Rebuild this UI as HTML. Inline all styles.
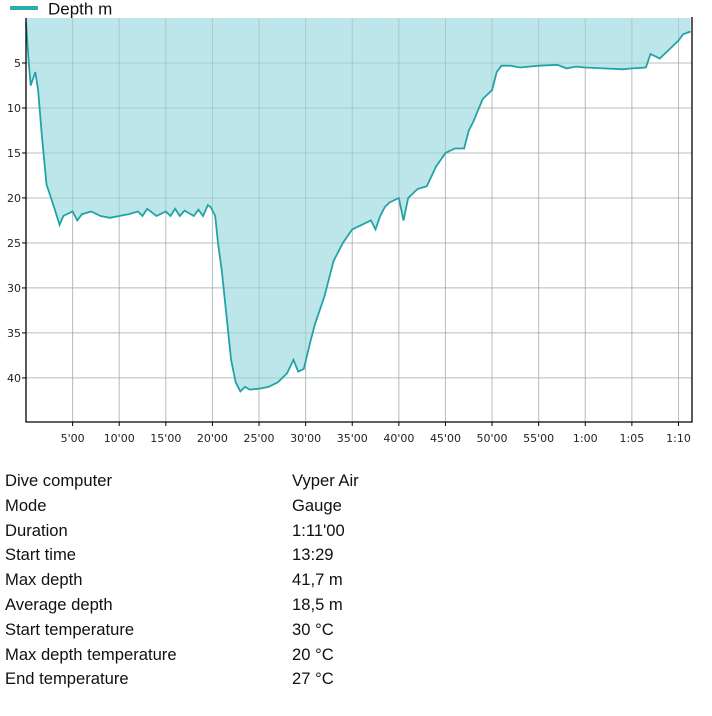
<!DOCTYPE html>
<html><head><meta charset="utf-8"><style>
body{margin:0;background:#fff;width:712px;height:716px;overflow:hidden;font-family:"Liberation Sans",sans-serif;}
#tbl{position:absolute;left:5px;top:471px;font-size:16.6px;color:#111;}
.row{height:24.8px;position:relative;white-space:nowrap}
.row span.v{position:absolute;left:287px}
</style></head><body>
<svg id="chart" width="712" height="460" style="position:absolute;left:0;top:0">
<g id="grid"></g>
<path id="area" fill="#bde6ea"></path>
<g id="grid2"></g>
<path id="line" fill="none" stroke="#23a3a6" stroke-width="1.8"></path>
<g id="axes"></g>
<rect x="10" y="6" width="28" height="4" fill="#2aacac"/>
<text x="48" y="14.5" font-size="17" fill="#111">Depth m</text>
</svg>
<div id="tbl">
<div class="row">Dive computer<span class="v">Vyper Air</span></div>
<div class="row">Mode<span class="v">Gauge</span></div>
<div class="row">Duration<span class="v">1:11'00</span></div>
<div class="row">Start time<span class="v">13:29</span></div>
<div class="row">Max depth<span class="v">41,7 m</span></div>
<div class="row">Average depth<span class="v">18,5 m</span></div>
<div class="row">Start temperature<span class="v">30 °C</span></div>
<div class="row">Max depth temperature<span class="v">20 °C</span></div>
<div class="row">End temperature<span class="v">27 °C</span></div>
</div>
<script>
const timesMin=[0,0.3,0.5,1,1.3,1.7,2.2,3,3.6,4,5,5.5,6,7,8,9,10,11,12,12.5,13,14,15,15.5,16,16.5,17,18,18.5,19,19.5,19.8,20.3,20.6,21,21.5,22,22.5,23,23.5,24,25,26,27,28,28.7,29.2,29.8,30.5,31,32,33,34,35,36,37,37.5,38,38.5,39,40,40.5,41,42,43,44,45,46,47,47.5,48,49,50,50.5,51,52,53,55,57,58,59,60,62,64,65,66.5,67,68,69,70,70.5,71.3];
const depthM=[0.5,5,7.5,6,8,13,18.5,21,23,22,21.5,22.5,21.8,21.5,22,22.2,22,21.8,21.5,22,21.2,22,21.5,22,21.2,22,21.4,22,21.3,22,20.8,21,22,25,28,33,38,40.5,41.5,41,41.3,41.2,41,40.5,39.5,38,39.3,39,36,34,31,27,25,23.5,23,22.5,23.5,22,21,20.5,20,22.5,20,19,18.7,16.5,15,14.5,14.5,12.5,11.5,9,8,6,5.3,5.3,5.5,5.3,5.2,5.6,5.4,5.5,5.6,5.7,5.6,5.5,4,4.5,3.5,2.5,1.8,1.5];
const xTicks=[5,10,15,20,25,30,35,40,45,50,55,60,65,70];
const xTickLabels=["5'00","10'00","15'00","20'00","25'00","30'00","35'00","40'00","45'00","50'00","55'00","1:00","1:05","1:10"];
const yTicks=[5,10,15,20,25,30,35,40];
const X0=26,X1=692,Y0=18,Y1=422,TMAX=71.45,DMAX=44.9;
const xs=t=>X0+t/TMAX*(X1-X0), ys=d=>Y0+d/DMAX*(Y1-Y0);
const NS="http://www.w3.org/2000/svg";
function mk(tag,attrs,parent){const e=document.createElementNS(NS,tag);for(const k in attrs)e.setAttribute(k,attrs[k]);parent.appendChild(e);return e;}
const g=document.getElementById('grid'),g2=document.getElementById('grid2'),ax=document.getElementById('axes');
[[g,'#d4d4d4',1],[g2,'#7a9a9c',0.35]].forEach(([p,c,o])=>{
 xTicks.forEach(t=>{const l=mk('line',{x1:xs(t),x2:xs(t),y1:Y0,y2:Y1,stroke:c,'stroke-opacity':o},p);
 
 });
 yTicks.forEach(d=>{const l=mk('line',{x1:X0,x2:X1,y1:ys(d),y2:ys(d),stroke:c,'stroke-opacity':o},p);
 
 });
});
let pts=timesMin.map((t,i)=>xs(t).toFixed(1)+','+ys(depthM[i]).toFixed(1));
document.getElementById('line').setAttribute('d','M'+pts.join('L'));
document.getElementById('area').setAttribute('d','M'+xs(0)+','+Y0+'L'+pts.join('L')+'L'+xs(timesMin[timesMin.length-1])+','+Y0+'Z');
mk('path',{d:`M${X0},${Y0}V${Y1}H${X1}V${Y0-1}`,fill:'none',stroke:'#000','stroke-width':1.3},ax);
xTicks.forEach((t,i)=>{mk('line',{x1:xs(t),x2:xs(t),y1:Y1,y2:Y1+4,stroke:'#000'},ax);
 const tx=mk('text',{x:xs(t),y:Y1+20,'font-size':11,'font-family':'DejaVu Sans, sans-serif','text-anchor':'middle',fill:'#222'},ax);tx.textContent=xTickLabels[i];
 
 });
yTicks.forEach(d=>{mk('line',{x1:X0-4,x2:X0,y1:ys(d),y2:ys(d),stroke:'#000'},ax);
 const tx=mk('text',{x:X0-5,y:ys(d)+4,'font-size':11,'font-family':'DejaVu Sans, sans-serif','text-anchor':'end',fill:'#222'},ax);tx.textContent=d;
 
 });
</script>
</body></html>
